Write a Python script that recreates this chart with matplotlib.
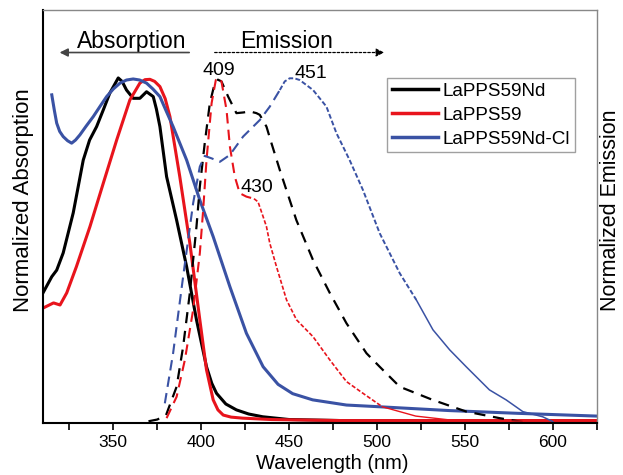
import numpy as np
import matplotlib.pyplot as plt

plt.rcParams['font.family'] = ['Liberation Sans', 'DejaVu Sans']

# absorption spectra (solid)
nd_abs_x = [310, 315, 317.8, 321.5, 327.2, 332.9, 336.5, 340.5, 344.5, 348, 352.8, 355, 357.5, 361.3, 365.1,
            368.9, 372.7, 374.5, 376.5, 380.3, 386, 391.7, 397.3, 403, 406, 408.7, 414, 420, 427, 435, 450,
            480, 625]
nd_abs_y = [0.377, 0.424, 0.443, 0.493, 0.609, 0.762, 0.82, 0.859, 0.91, 0.956, 1.0, 0.99, 0.965, 0.941,
            0.941, 0.960, 0.946, 0.91, 0.859, 0.714, 0.588, 0.453, 0.299, 0.163, 0.115, 0.086, 0.055, 0.038,
            0.026, 0.018, 0.01, 0.007, 0.007]

la_abs_x = [310, 316, 319.7, 323.5, 329, 336.7, 344.3, 351.9, 359.4, 365.1, 368, 370.8, 373.5, 376.5, 379.5,
            382.2, 387.8, 393.5, 399.2, 403, 406.8, 409.5, 412.5, 417, 423.6, 440, 480, 625]
la_abs_y = [0.333, 0.348, 0.342, 0.377, 0.453, 0.569, 0.695, 0.820, 0.936, 0.985, 0.995, 0.996, 0.99, 0.975,
            0.94, 0.888, 0.714, 0.522, 0.299, 0.154, 0.067, 0.038, 0.023, 0.017, 0.014, 0.01, 0.007, 0.007]

cl_abs_x = [315, 316.5, 317.8, 319.5, 321.5, 324, 326.3, 328.5, 331, 334.5, 338.6, 342.5, 346.2, 350,
            353.8, 357.5, 361.3, 365, 368.9, 372.5, 376.5, 380, 384, 391.7, 399.2, 406.8, 416.3, 425.7,
            435.2, 443.7, 452, 463.4, 482.6, 501.5, 541, 580, 625]
cl_abs_y = [0.951, 0.905, 0.869, 0.845, 0.830, 0.818, 0.811, 0.82, 0.835, 0.86, 0.888, 0.918, 0.946, 0.968,
            0.985, 0.994, 0.997, 0.994, 0.985, 0.968, 0.946, 0.905, 0.859, 0.762, 0.646, 0.540, 0.395, 0.260,
            0.163, 0.112, 0.085, 0.067, 0.052, 0.047, 0.036, 0.028, 0.020]

# emission spectra (dashed)
nd_em_x = [370, 375, 380, 386, 389.7, 393.5, 397.3, 399.2, 402, 404.9, 407.7, 409.5, 411.5, 415.3, 420, 424,
           427.6, 431.4, 433.3, 437.1, 440, 444.7, 454.1, 463.6, 473.1, 482.6, 494, 501.5, 512.9, 531.6,
           550.8, 569.7, 585]
nd_em_y = [0.005, 0.01, 0.023, 0.105, 0.221, 0.376, 0.569, 0.685, 0.811, 0.927, 0.985, 0.995, 0.99, 0.946,
           0.898, 0.9, 0.903, 0.898, 0.893, 0.859, 0.81, 0.733, 0.588, 0.472, 0.377, 0.289, 0.202, 0.163,
           0.105, 0.067, 0.033, 0.014, 0.001]

la_em_x = [380.3, 386, 390.7, 395.4, 399.2, 401.1, 403, 405.9, 408.3, 410, 411.5, 414.4, 416.3, 419.1, 421.9,
           425.7, 430, 432.3, 435.2, 437.1, 439, 442.8, 448.5, 454.2, 463.6, 473.1, 482.6, 492, 503, 522,
           541, 560, 600]
la_em_y = [0.014, 0.076, 0.183, 0.328, 0.492, 0.617, 0.762, 0.927, 0.994, 1.0, 0.99, 0.907, 0.801, 0.714,
           0.666, 0.656, 0.65, 0.641, 0.598, 0.569, 0.521, 0.453, 0.357, 0.299, 0.25, 0.183, 0.12, 0.086,
           0.047, 0.02, 0.009, 0.006, 0.005]

cl_em_x = [379.3, 384, 389.7, 395.4, 399.2, 402, 405.9, 410.6, 416.3, 423.8, 433.3, 439, 444.7, 447.5, 450.3,
           453, 456, 463.6, 471.2, 476.9, 484.4, 492, 501.5, 512.9, 522.3, 531.8, 541.3, 550.7, 563.9, 573.4,
           582.9, 594.2, 600]
cl_em_y = [0.057, 0.202, 0.424, 0.637, 0.743, 0.774, 0.767, 0.757, 0.777, 0.830, 0.878, 0.917, 0.965, 0.99,
           0.999, 0.999, 0.994, 0.965, 0.917, 0.840, 0.762, 0.675, 0.55, 0.434, 0.357, 0.27, 0.212, 0.163,
           0.096, 0.067, 0.033, 0.018, 0.004]

labels = ['LaPPS59Nd', 'LaPPS59', 'LaPPS59Nd-Cl']
colors = ['black', '#e8141c', '#3a52a4']

fig = plt.figure(figsize=(6.23, 4.75), dpi=100)
ax = fig.add_axes([0.069, 0.1095, 0.889, 0.8695])


def plot_segments(x, y, color, breaks, styles):
    # draw one spectrum in pieces, each piece with its own dash style
    x = np.asarray(x)
    y = np.asarray(y)
    start = 0
    edges = list(breaks) + [x[-1] + 1]
    for edge, (ls, lw) in zip(edges, styles):
        stop = int(np.searchsorted(x, edge, side='right'))
        ax.plot(x[start:stop], y[start:stop], color=color, ls=ls, lw=lw)
        start = max(stop - 1, 0)


# absorption
for xs, ys, c, lab in zip([nd_abs_x, la_abs_x, cl_abs_x], [nd_abs_y, la_abs_y, cl_abs_y], colors, labels):
    ax.plot(xs, ys, color=c, lw=2.2, label=lab)

# emission
ax.plot(nd_em_x, nd_em_y, color='black', lw=1.6, ls=(0, (5, 3.5)))
plot_segments(la_em_x, la_em_y, colors[1], [432, 505],
              [((0, (5, 3)), 1.5), ((0, (2.5, 1.2)), 1.2), ('-', 1.0)])
plot_segments(cl_em_x, cl_em_y, colors[2], [445, 528],
              [((0, (5, 3)), 1.5), ((0, (2.5, 1.2)), 1.4), ('-', 1.1)])

ax.set_xlim(310, 625)
ax.set_ylim(0, 1.197)
ax.set_xticks([350, 400, 450, 500, 550, 600])
ax.set_xticks([325, 375, 425, 475, 525, 575, 625], minor=True)
ax.set_yticks([])
ax.tick_params(axis='x', which='both', direction='out', length=5, width=1.2, labelsize=12.5, pad=4)
for side in ['left', 'bottom']:
    ax.spines[side].set_color('black')
    ax.spines[side].set_linewidth(1.5)
for side in ['top', 'right']:
    ax.spines[side].set_color('#888888')
    ax.spines[side].set_linewidth(1.0)

fig.text(0.534, 0.004, 'Wavelength (nm)', fontsize=14.5, ha='center', va='bottom')
fig.text(0.0385, 0.579, 'Normalized Absorption', rotation=90, fontsize=16, ha='center', va='center')
fig.text(0.98, 0.558, 'Normalized Emission', rotation=90, fontsize=15.5, ha='center', va='center')

# header arrows
ax.text(0.161, 0.908, 'Absorption', transform=ax.transAxes, fontsize=16.5, ha='center', va='baseline')
ax.annotate('', xy=(0.025, 0.897), xytext=(0.269, 0.897), xycoords='axes fraction',
            arrowprops=dict(arrowstyle='-|>', color='#444444', lw=1.2, mutation_scale=12))
ax.text(0.439, 0.908, 'Emission', transform=ax.transAxes, fontsize=16.5, ha='center', va='baseline')
ax.annotate('', xy=(0.621, 0.897), xytext=(0.305, 0.897), xycoords='axes fraction',
            arrowprops=dict(arrowstyle='-|>', color='black', lw=0.9, ls=(0, (2, 1.5)), mutation_scale=12))

# peak labels
ax.text(410, 1.009, '409', fontsize=14, ha='center', va='baseline')
ax.text(462.3, 1.0, '451', fontsize=14, ha='center', va='baseline')
ax.text(431.9, 0.67, '430', fontsize=14, ha='center', va='baseline')

leg = ax.legend(loc='upper left', bbox_to_anchor=(0.621, 0.835), fontsize=13.6, frameon=True,
                fancybox=False, edgecolor='#888888', handlelength=2.45, handletextpad=0.25,
                labelspacing=0.35, borderpad=0.25, borderaxespad=0)
leg.get_frame().set_linewidth(1.0)
for line in leg.get_lines():
    line.set_linewidth(2.5)

fig.savefig('out.png', dpi=100)
